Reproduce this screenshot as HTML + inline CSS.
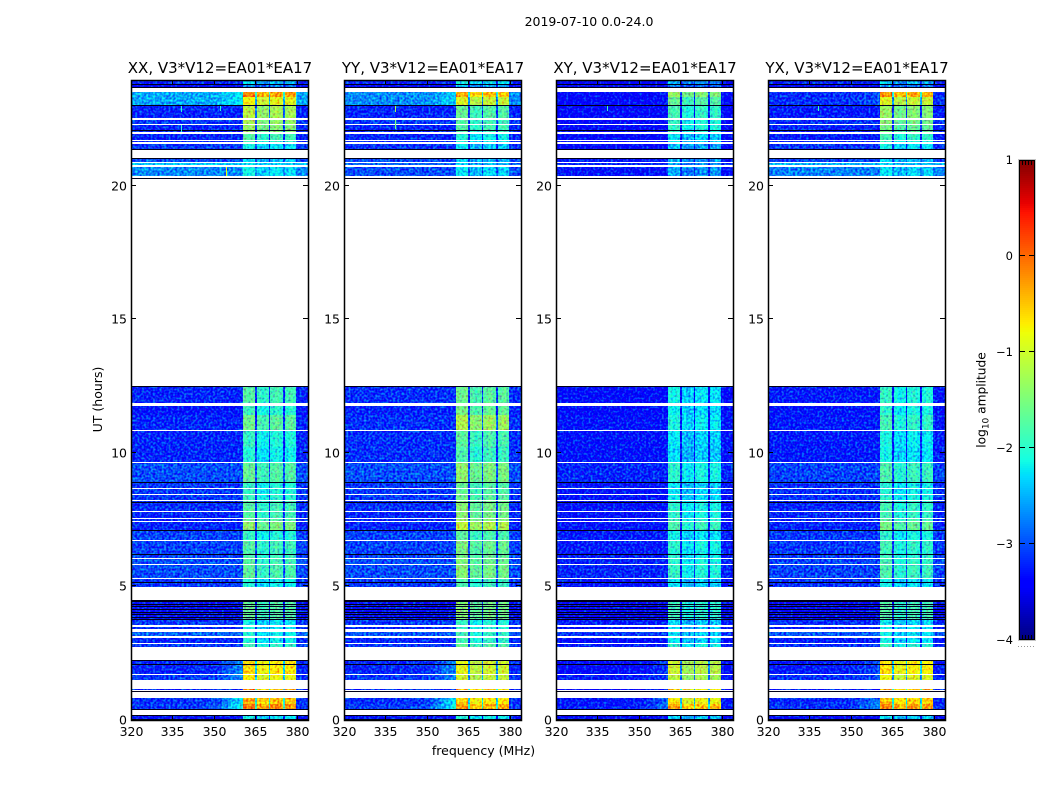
<!DOCTYPE html>
<html>
<head>
<meta charset="utf-8">
<title>2019-07-10 0.0-24.0</title>
<style>
html,body{margin:0;padding:0;background:#fff;width:1050px;height:800px;overflow:hidden}
svg{display:block}
text{font-family:"DejaVu Sans","Liberation Sans",sans-serif;fill:#000}
</style>
</head>
<body>
<svg id="fig" xmlns="http://www.w3.org/2000/svg" width="1050" height="800" viewBox="0 0 1050 800">
<defs>
<filter id="speckle" x="0" y="0" width="100%" height="100%" color-interpolation-filters="sRGB">
<feTurbulence type="fractalNoise" baseFrequency="0.45" numOctaves="1" seed="7" result="n"/>
<feColorMatrix in="n" type="matrix" values="0.5 0 0 0 0.25  0 1.5 0 0 -0.25  0 0 0.5 0 0.25  0 0 0 0 1" result="m"/>
<feComposite in="SourceGraphic" in2="m" operator="arithmetic" k1="0" k2="1" k3="1" k4="-0.5" result="c"/>
<feComposite in="c" in2="SourceAlpha" operator="in"/>
</filter>
</defs>
<rect x="0" y="0" width="1050" height="800" fill="#fff"/>
<text x="589" y="26" font-size="12.5" text-anchor="middle">2019-07-10 0.0-24.0</text>
<text x="483.5" y="755" font-size="12.5" text-anchor="middle">frequency (MHz)</text>
<text x="102" y="399.5" font-size="12.5" text-anchor="middle" transform="rotate(-90 102 399.5)">UT (hours)</text>
<text x="985.5" y="400" font-size="12.2" text-anchor="middle" transform="rotate(-90 985.5 400)">log<tspan font-size="9" dy="3">10</tspan><tspan dy="-3"> amplitude</tspan></text>
</svg>
<script>
// ---------- chart data ----------
const panelNames = ['XX, V3*V12=EA01*EA17','YY, V3*V12=EA01*EA17','XY, V3*V12=EA01*EA17','YX, V3*V12=EA01*EA17'];
const xTickValues = [320,335,350,365,380];
const yTickValues = [0,5,10,15,20];
const colorbarTicks = [-4,-3,-2,-1,0,1];

// observed time ranges in UT hours (anything else is flagged and stays white)
const rowStart = [23.95,23.76,23.50,23.33,22.97,22.46,22.28,21.93,21.68,21.57,21.03,20.84,20.71,12.49,11.74,11.40,10.81,10.20,9.62,8.87,8.64,8.42,8.19,7.79,7.51,7.41,7.09,6.70,6.40,6.03,5.81,5.28,4.50,3.73,3.48,3.28,3.06,2.85,2.23,1.70,1.16,0.84,0.60,0.17];
const rowEnd   = [23.76,23.67,23.33,23.00,22.53,22.32,21.99,21.72,21.63,21.35,20.88,20.77,20.37,11.85,11.40,10.84,10.20,9.66,8.90,8.69,8.46,8.24,7.83,7.55,7.45,7.12,6.74,6.40,6.07,5.84,5.32,4.97,3.78,3.54,3.39,3.13,2.88,2.73,1.74,1.48,1.12,0.60,0.40,0.00];

// log10 amplitude away from the bright channels, per polarisation
const backgroundXX = [-3.2,-3.4,-2.55,-2.55,-3.2,-3.1,-3.2,-3.2,-3.2,-3.1,-3.0,-2.4,-2.7,-3.2,-3.3,-3.2,-3.2,-3.2,-3.0,-3.1,-3.1,-3.1,-3.15,-3.2,-3.2,-3.2,-3.05,-3.05,-3.05,-3.0,-3.0,-3.1,-3.3,-3.1,-3.2,-2.9,-3.2,-3.1,-3.2,-3.1,-3.2,-3.15,-3.1,-3.3];
const backgroundYY = [-3.2,-3.4,-2.7,-2.7,-3.2,-3.1,-3.2,-3.2,-3.2,-3.15,-3.0,-2.9,-3.0,-3.15,-3.2,-3.15,-3.15,-3.15,-3.0,-3.1,-3.1,-3.1,-3.15,-3.2,-3.2,-3.2,-3.05,-3.05,-3.05,-3.0,-3.0,-3.1,-3.3,-3.1,-3.2,-2.95,-3.2,-3.1,-3.2,-3.1,-3.2,-3.15,-3.1,-3.3];
const backgroundXY = [-3.4,-3.5,-3.45,-3.45,-3.45,-3.4,-3.45,-3.45,-3.4,-3.4,-3.3,-3.2,-3.3,-3.35,-3.35,-3.3,-3.3,-3.3,-3.2,-3.3,-3.3,-3.3,-3.3,-3.3,-3.3,-3.3,-3.25,-3.25,-3.25,-3.2,-3.2,-3.3,-3.45,-3.25,-3.35,-3.1,-3.35,-3.25,-3.35,-3.25,-3.35,-3.3,-3.25,-3.45];
const backgroundYX = [-3.2,-3.4,-3.15,-3.15,-3.25,-3.15,-3.2,-3.25,-3.2,-3.15,-3.05,-2.5,-2.75,-3.25,-3.3,-3.25,-3.25,-3.25,-3.05,-3.15,-3.15,-3.15,-3.2,-3.2,-3.2,-3.2,-3.1,-3.1,-3.1,-3.05,-3.05,-3.15,-3.35,-3.15,-3.25,-2.95,-3.25,-3.15,-3.25,-3.15,-3.25,-3.2,-3.15,-3.35];

// log10 amplitude in the bright 360-380 MHz channels, per polarisation
const blockXX = [-2.3,-2.6,-0.15,-0.75,-1.1,-1.2,-1.3,-1.7,-1.8,-2.1,-2.3,-2.2,-2.1,-1.7,-1.85,-1.55,-1.9,-2.0,-1.6,-1.9,-1.9,-1.85,-1.7,-1.7,-1.6,-1.35,-1.9,-1.7,-1.75,-1.7,-1.65,-2.0,-1.6,-2.1,-2.1,-2.0,-2.0,-1.8,-0.55,-0.7,-0.2,-0.3,-0.05,-2.1];
const blockYY = [-2.1,-2.4,-0.3,-0.9,-1.6,-1.7,-1.7,-2.0,-2.0,-2.2,-2.3,-2.3,-2.2,-1.55,-1.5,-1.15,-1.65,-1.75,-1.35,-1.6,-1.6,-1.55,-1.4,-1.4,-1.3,-1.05,-1.65,-1.45,-1.5,-1.45,-1.4,-1.75,-1.4,-1.9,-1.9,-1.8,-1.8,-1.6,-0.85,-0.95,-0.4,-0.55,-0.2,-2.0];
const blockXY = [-2.5,-2.7,-1.3,-1.6,-1.8,-1.9,-1.9,-2.2,-2.2,-2.4,-2.5,-2.5,-2.5,-2.1,-2.15,-2.05,-2.2,-2.25,-1.95,-2.2,-2.2,-2.15,-1.95,-1.95,-1.9,-1.75,-2.1,-1.95,-2.0,-1.95,-1.9,-2.2,-1.85,-2.25,-2.25,-2.2,-2.2,-1.95,-1.0,-1.1,-0.6,-0.7,-0.3,-2.3];
const blockYX = [-2.4,-2.6,-0.2,-0.9,-1.3,-1.4,-1.5,-1.8,-1.9,-2.1,-2.3,-2.3,-2.2,-1.9,-1.95,-1.8,-2.05,-2.1,-1.75,-2.0,-2.0,-1.95,-1.8,-1.8,-1.7,-1.5,-1.95,-1.8,-1.85,-1.8,-1.75,-2.1,-1.7,-2.15,-2.15,-2.1,-2.1,-1.85,-0.6,-0.8,-0.3,-0.4,-0.1,-2.2];

// brightening of the background towards 360 MHz, per row, and its strength per panel
const rampByRow = [0,0,0.35,0.35,0,0,0,0,0,0,0,0,0,0,0,0,0,0,0,0,0,0,0,0,0,0,0,0,0,0,0,0,0,0,0,0,0,0,0.5,0.4,0,0.9,1.0,0];
const rampByPanel = [1,1,0.45,0.45];

// frequency channels (MHz edges), with ramp weight and offset of each channel
const channelEdges = [320,328,335,342,346,349,351,353,355,357,359,360.5,362,363.5,364.8,365.7,367,368.5,369.8,370.4,372,373.5,374.9,375.6,377,378.5,379.8,384];
const channelRamp  = [0,0,0,0.02,0.05,0.1,0.2,0.4,0.6,0.8,1,0,0,0,0,0,0,0,0,0,0,0,0,0,0,0,0];
const channelBlock = [null,null,null,null,null,null,null,null,null,null,null,0,-0.08,0,-1.8,-0.22,-0.32,-0.25,-1.8,-0.18,-0.1,-0.2,-1.8,-0.2,-0.12,-0.2,null];

// horizontal zero-amplitude lines (UT hours)
const darkLineHours = [23.80,23.67,23.00,22.08,21.35,21.03,20.27,12.50,8.89,8.16,7.12,6.22,5.17,4.50,4.44,4.35,4.25,4.14,4.06,3.95,3.84,3.78,2.23,2.08,1.10,0.40,0.17,0.04];

// narrow interference features: panel index, frequency, time range, log amplitude
const spikePanel = [0,0,0,0,1,1,2,3];
const spikeFreq  = [354.2,338,338,352,338.5,338.5,338.5,338];
const spikeStart = [20.71,22.97,22.28,22.97,22.97,22.46,22.97,22.97];
const spikeEnd   = [20.37,22.75,22.02,22.80,22.75,22.10,22.80,22.80];
const spikeLevel = [-0.8,-2.0,-2.0,-2.0,-1.2,-1.5,-1.9,-1.9];
// ---------- layout ----------
const svgNS = 'http://www.w3.org/2000/svg';
const fig = document.getElementById('fig');
const panelLeft = [131,344,556,768];
const panelWidth = 177, plotTop = 80, plotBottom = 720;
const yMax = 23.95, freqMin = 320, freqMax = 384;
const backgrounds = [backgroundXX,backgroundYY,backgroundXY,backgroundYX];
const blocks = [blockXX,blockYY,blockXY,blockYX];
const cbLeft = 1019, cbRight = 1035, cbTop = 160, cbBottom = 640, vMin = -4, vMax = 1;

function yScale(t){ return plotBottom - (t / yMax) * (plotBottom - plotTop); }
function xScale(f, p){ return panelLeft[p] + (f - freqMin) / (freqMax - freqMin) * panelWidth; }
function cbScale(v){ return cbBottom - (v - vMin) / (vMax - vMin) * (cbBottom - cbTop); }

function seg(x, a, b, c, d){
  const t = x < a ? 0 : x < b ? (x - a) / (b - a) : x < c ? 1 : x < d ? (d - x) / (d - c) : 0;
  return Math.round(255 * t);
}
function jet(v){
  const n = Math.max(0, Math.min(1, (v - vMin) / (vMax - vMin)));
  const r = n < 0.89 ? seg(n, 0.35, 0.66, 2, 3) : Math.round(255 * (1 - (n - 0.89) / 0.11 * 0.5));
  const g = seg(n, 0.125, 0.375, 0.64, 0.91);
  const b = n < 0.11 ? Math.round(255 * (0.5 + n / 0.11 * 0.5)) : seg(n, -1, -0.5, 0.34, 0.65);
  return 'rgb(' + r + ',' + g + ',' + b + ')';
}
function make(tag, attrs, parent){
  const node = document.createElementNS(svgNS, tag);
  for (const k in attrs) node.setAttribute(k, attrs[k]);
  (parent || fig).appendChild(node);
  return node;
}
function tickLine(x1, y1, x2, y2, parent, name){
  const t = make('line', {x1:x1, y1:y1, x2:x2, y2:y2, stroke:'#000', 'stroke-width':1, 'shape-rendering':'crispEdges'}, parent);
  
  
}

// ---------- panels ----------
panelNames.forEach(function(title, p){
  const L = panelLeft[p], R = L + panelWidth;
  const g = make('g', {});
  
  
  const cells = make('g', {filter:'url(#speckle)'}, g);
  
  

  rowStart.forEach(function(tStart, r){
    const y0 = Math.round(yScale(tStart)), y1 = Math.round(yScale(rowEnd[r]));
    channelBlock.forEach(function(off, c){
      const x0 = Math.round(xScale(channelEdges[c], p)), x1 = Math.round(xScale(channelEdges[c + 1], p));
      const bg = backgrounds[p][r] + rampByRow[r] * rampByPanel[p] * channelRamp[c];
      const level = off === null ? bg : Math.max(bg, blocks[p][r] + off);
      const cell = make('rect', {x:x0, y:y0, width:x1 - x0, height:Math.max(1, y1 - y0), fill:jet(level), 'shape-rendering':'crispEdges'}, cells);
      
      
    });
  });

  darkLineHours.forEach(function(h){
    const y = Math.round(yScale(h));
    const line = make('rect', {x:L, y:y, width:panelWidth, height:1, fill:'#00001a', 'shape-rendering':'crispEdges'}, g);
    
    
  });

  spikeFreq.forEach(function(f, s){
    if (spikePanel[s] !== p) return;
    const y0 = Math.round(yScale(spikeStart[s])), y1 = Math.round(yScale(spikeEnd[s]));
    const sp = make('rect', {x:Math.round(xScale(f, p)), y:y0, width:1, height:y1 - y0, fill:jet(spikeLevel[s]), 'shape-rendering':'crispEdges'}, g);
    
    
  });

  const frame = make('rect', {x:L + 0.5, y:plotTop + 0.5, width:panelWidth, height:plotBottom - plotTop, fill:'none', stroke:'#000', 'stroke-width':1.5}, g);
  
  

  xTickValues.forEach(function(v){
    const x = Math.round(xScale(v, p)) + 0.5;
    tickLine(x, plotBottom, x, plotBottom - 4, g, 'x-tick');
    tickLine(x, plotTop, x, plotTop + 4, g, 'x-tick-top');
    const label = make('text', {x:x, y:736, 'font-size':12.5, 'text-anchor':'middle'}, g);
    
    
    label.textContent = String(v);
  });
  yTickValues.forEach(function(v){
    const y = Math.round(yScale(v)) - 0.5;
    tickLine(L, y, L + 5, y, g, 'y-tick');
    tickLine(R, y, R - 5, y, g, 'y-tick-right');
    const label = make('text', {x:L - 4, y:y + 5, 'font-size':12.5, 'text-anchor':'end'}, g);
    
    
    label.textContent = String(v);
  });

  const head = make('text', {x:L + panelWidth / 2 + 0.5, y:73, 'font-size':15, 'text-anchor':'middle'}, g);
  
  
  head.textContent = title;
});

// ---------- colorbar ----------
const cb = make('g', {});


const halo = make('rect', {x:cbLeft - 0.5, y:cbTop - 0.5, width:cbRight - cbLeft + 1, height:cbBottom - cbTop + 1, fill:'none', stroke:'#c4c4c4', 'stroke-width':1}, cb);


for (let y = cbTop; y < cbBottom; y += 2) {
  const v = vMax - (y + 1 - cbTop) / (cbBottom - cbTop) * (vMax - vMin);
  const slice = make('rect', {x:cbLeft, y:y, width:cbRight - cbLeft, height:2, fill:jet(v), 'shape-rendering':'crispEdges'}, cb);
  
  
}
const cbFrame = make('rect', {x:cbLeft + 0.5, y:cbTop + 0.5, width:cbRight - cbLeft - 1, height:cbBottom - cbTop - 1, fill:'none', stroke:'#000', 'stroke-width':1, 'shape-rendering':'crispEdges'}, cb);


colorbarTicks.forEach(function(v){
  const y = Math.round(cbScale(v)) - 0.5;
  if (v !== vMin && v !== vMax) {
    tickLine(cbLeft, y, cbLeft + 6, y, cb, 'colorbar-tick');
    tickLine(cbRight - 6, y, cbRight, y, cb, 'colorbar-tick-right');
  }
  const label = make('text', {x:1013, y:y + 4.5, 'font-size':11.5, 'text-anchor':'end'}, cb);
  
  
  label.textContent = (v < 0 ? '\u2212' : '') + Math.abs(v);
});
for (let x = cbLeft + 3.5; x < cbRight - 2; x += 3) {
  tickLine(x, cbTop, x, cbTop + 5, cb, 'colorbar-minor-tick');
  tickLine(x, cbBottom, x, cbBottom - 5, cb, 'colorbar-minor-tick');
}
for (let x = cbLeft - 1; x < cbRight + 1; x += 3) {
  const dot = make('rect', {x:x, y:646, width:1, height:1, fill:'#999', 'shape-rendering':'crispEdges'}, cb);
  
  
}
</script>
</body>
</html>
